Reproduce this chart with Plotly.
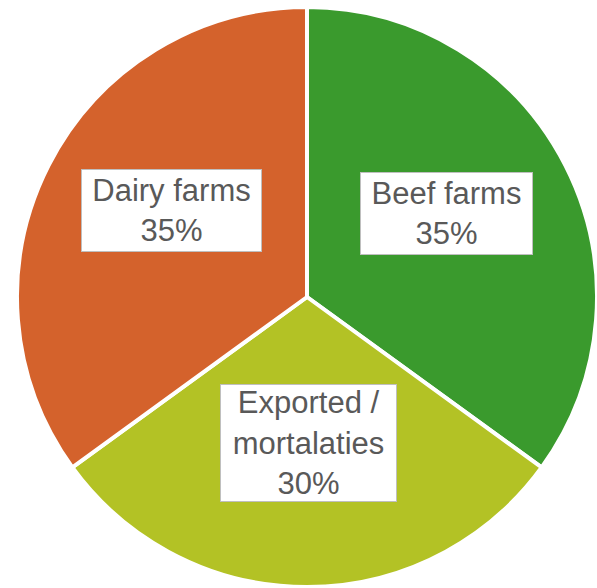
import math
import plotly.graph_objects as go

labels = ["Beef farms", "Exported /<br>mortalaties", "Dairy farms"]
values = [35, 30, 35]
colors = ["#3A9A2D", "#B3C225", "#D4622C"]

W, H = 597, 588
cx, cy, r = 308, 297, 291

fig = go.Figure(go.Pie(
    labels=labels, values=values, sort=False, direction="clockwise", rotation=0,
    marker=dict(colors=colors, line=dict(color="white", width=4)),
    textinfo="none", hoverinfo="label+percent", showlegend=False,
    domain=dict(x=[(cx - r) / W, 1], y=[(H - cy - r) / H, min(1, (H - cy + r) / H)]),
))

total = sum(values)
box_w = [165, 169, 173]
box_h = [75, 110, 75]
frac = [0.54, 0.50, 0.54]
xshift = [-2, 0, 4]
yshift = [12, 0, 15]
cum = 0
for lab, v, bw, bh, f, xs, ys in zip(labels, values, box_w, box_h, frac, xshift, yshift):
    mid = (cum + v / 2) / total * 2 * math.pi
    cum += v
    px = cx + f * r * math.sin(mid)
    py = cy - f * r * math.cos(mid)
    pct = round(v / total * 100)
    fig.add_annotation(
        x=px / W, y=1 - py / H, xref="paper", yref="paper",
        xanchor="center", yanchor="middle", xshift=xs, yshift=ys,
        text=f"{lab}<br>{pct}%", showarrow=False,
        font=dict(family="Liberation Sans, Arial", size=31, color="#595959"),
        bgcolor="white", bordercolor="#BFBFBF", borderwidth=1, borderpad=3,
        width=bw, height=bh, align="center", valign="middle",
    )

fig.update_layout(
    width=W, height=H, margin=dict(l=0, r=0, t=0, b=0),
    paper_bgcolor="white", plot_bgcolor="white",
)
fig.write_html("out.html")
